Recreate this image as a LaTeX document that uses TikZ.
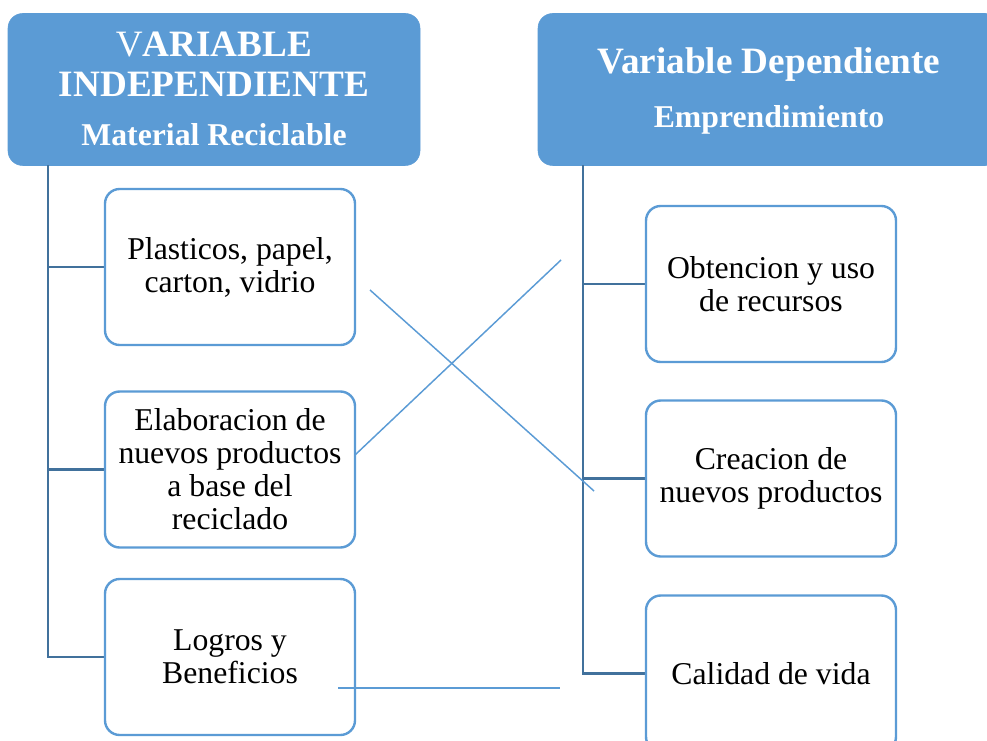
\documentclass[tikz,border=0pt]{standalone}
\usepackage{fontspec}
\setmainfont{Liberation Serif}
\usetikzlibrary{positioning}
\definecolor{headblue}{HTML}{5B9BD5}
\definecolor{treeblue}{HTML}{41719C}

\begin{document}
\begin{tikzpicture}[x=0.75pt, y=-0.75pt,
    header/.style={fill=headblue, draw=headblue, rounded corners=11pt, minimum height=114pt},
    headtext/.style={text=white, font=\bfseries\fontsize{27.9}{30}\selectfont, align=center, inner sep=0pt},
    subtext/.style={text=white, font=\bfseries\fontsize{23.8}{25}\selectfont, inner sep=0pt, anchor=base},
    itembox/.style={draw=headblue, line width=1.8pt, fill=white, rounded corners=11pt,
        minimum width=187.5pt, minimum height=117pt, align=center, inner sep=0pt,
        font=\fontsize{23.8}{24.75}\selectfont},
    tree/.style={draw=treeblue, line width=2.2pt},
    cross/.style={draw=headblue, line width=1.1pt}]

        \useasboundingbox (0,0) rectangle (987,741);
        \clip (0,0) rectangle (987,741);

        % Headers
        \node[header, minimum width=309pt] (indep) at (214,89.5) {};
        \node[header, minimum width=346.5pt] (dep) at (769,89.5) {};
        \node[headtext] (indeptitle) at (214,64.7) {{\mdseries V}ARIABLE\\INDEPENDIENTE};
        \node[subtext] (indepsub) at (214,146) {Material Reciclable};
        \node[headtext, anchor=base] (deptitle) at (769,74) {Variable Dependiente};
        \node[subtext] (depsub) at (769,128) {Emprendimiento};

        \coordinate (ltop) at (48,165);
        \coordinate (rtop) at (583,165);

        % Trees
        \draw[tree] (ltop) |- (230,657);
        \draw[tree] (ltop |- 0,267) -- (230,267);
        \draw[tree] (ltop |- 0,469.5) -- (230,469.5);
        \draw[tree] (rtop) |- (771,673.5);
        \draw[tree] (rtop |- 0,284) -- (771,284);
        \draw[tree] (rtop |- 0,478.5) -- (771,478.5);

        % Items
        \node[itembox] (plast) at (230,267) {Plasticos, papel,\\carton, vidrio};
        \node[itembox] (elab) at (230,469.5) {Elaboracion de\\nuevos productos\\a base del\\reciclado};
        \node[itembox] (logros) at (230,657) {Logros y\\Beneficios};
        \node[itembox] (obten) at (771,284) {Obtencion y uso\\de recursos};
        \node[itembox] (creac) at (771,478.5) {Creacion de\\nuevos productos};
        \node[itembox] (calid) at (771,673.5) {Calidad de vida};

        % Crossing lines
        \coordinate (xa) at (370,290);
        \coordinate (xb) at (594,491);
        \coordinate (ya) at (355,455);
        \coordinate (yb) at (561,260);
        \coordinate (za) at (338,688);
        \coordinate (zb) at (560,688);
        \draw[cross] (xa) -- (xb);
        \draw[cross] (ya) -- (yb);
        \draw[cross] (za) -- (zb);
    \end{tikzpicture}
\end{document}
